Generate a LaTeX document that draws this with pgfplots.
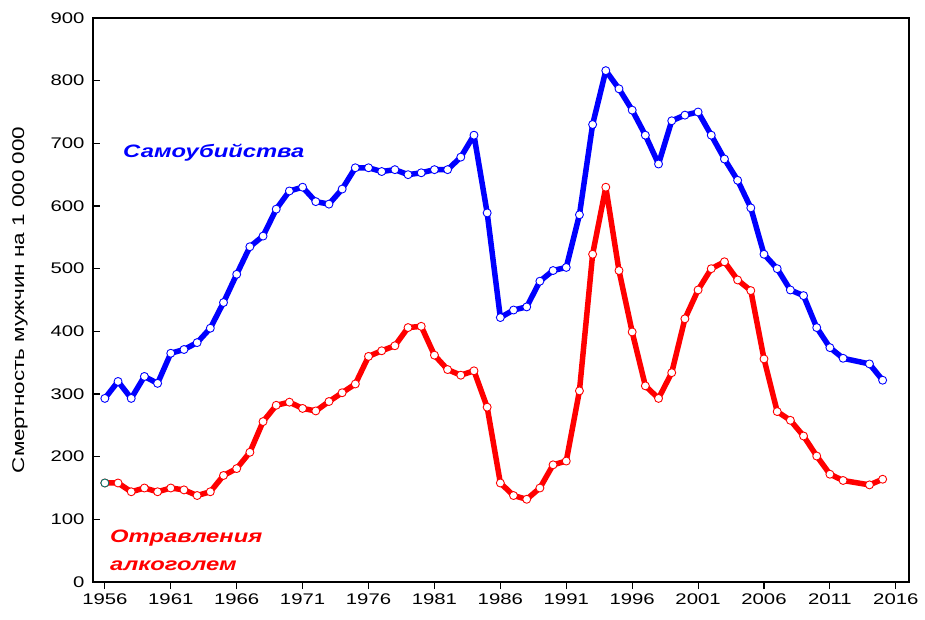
\documentclass[border=0pt]{standalone}
\usepackage{fontspec}
\setmainfont[FakeStretch=1.32]{Liberation Sans}
\usepackage{pgfplots}
\pgfplotsset{compat=1.18}

\definecolor{suic}{RGB}{0,0,255}
\definecolor{alco}{RGB}{255,0,0}
\definecolor{firstmk}{RGB}{0,110,100}

\pgfplotstableread{
year val
1956 293
1957 320
1958 293
1959 328
1960 317
1961 365
1962 371
1963 382
1964 405
1965 446
1966 491
1967 535
1968 552
1969 595
1970 624
1971 630
1972 607
1973 603
1974 627
1975 661
1976 661
1977 655
1978 658
1979 650
1980 653
1981 658
1982 658
1983 678
1984 713
1985 589
1986 422
1987 434
1988 439
1989 480
1990 497
1991 502
1992 586
1993 730
1994 816
1995 787
1996 753
1997 713
1998 667
1999 736
2000 745
2001 750
2002 713
2003 675
2004 641
2005 597
2006 523
2007 500
2008 466
2009 457
2010 406
2011 374
2012 357
2014 348
2015 322
}\suicide

\pgfplotstableread{
year val
1956 158
1957 158
1958 144
1959 150
1960 144
1961 150
1962 147
1963 138
1964 144
1965 170
1966 181
1967 207
1968 256
1969 282
1970 287
1971 277
1972 273
1973 288
1974 302
1975 316
1976 360
1977 369
1978 377
1979 406
1980 408
1981 362
1982 339
1983 330
1984 337
1985 279
1986 158
1987 138
1988 132
1989 150
1990 187
1991 193
1992 305
1993 523
1994 630
1995 497
1996 399
1997 313
1998 293
1999 334
2000 420
2001 466
2002 500
2003 511
2004 482
2005 465
2006 356
2007 272
2008 258
2009 233
2010 201
2011 172
2012 162
2014 155
2015 164
}\alcohol

\begin{document}
\begin{tikzpicture}
\useasboundingbox (-93pt,-37pt) rectangle (832pt,582pt);
\begin{axis}[
    name=ax,
    at={(0,0)}, anchor=south west,
    scale only axis,
    width=816pt, height=564pt,
    xmin=1955.1, xmax=2017,
    ymin=0, ymax=900,
    xtick={1956,1961,...,2016},
    ytick={0,100,...,900},
    xtick pos=bottom, ytick pos=left,
    xtick align=outside, ytick align=inside,
    major tick length=7pt,
    tick style={black, line width=1.1pt},
    axis line style={line width=1.3pt},
    /pgf/number format/assume math mode=true,
    x tick label style={/pgf/number format/1000 sep={}},
    tick label style={font=\fontsize{15.4}{17}\selectfont},
    yticklabel style={xshift=-5pt},
    xticklabel style={yshift=-1pt},
    clip=false,
]
\addplot[suic, line width=5.5pt, line join=round, mark=*, mark size=4pt,
    mark options={fill=white, draw=suic, line width=0.9pt}]
    table[x=year, y=val] {\suicide};
\addplot[alco, line width=5.5pt, line join=round, mark=*, mark size=4pt,
    mark options={fill=white, draw=alco, line width=0.9pt}]
    table[x=year, y=val] {\alcohol};
% first marker of the red series has a dark teal outline
\addplot[only marks, mark=*, mark size=4pt,
    mark options={fill=white, draw=firstmk, line width=0.9pt}]
    coordinates {(1956,158)};

\node[anchor=base west, text=suic, font=\fontsize{18}{20}\selectfont\bfseries\itshape, inner sep=0pt]
    at (axis cs:1957.37,676.6) {Самоубийства};
\node[anchor=base west, text=alco, font=\fontsize{18}{20}\selectfont\bfseries\itshape, inner sep=0pt]
    at (axis cs:1956.38,63.8) {Отравления};
\node[anchor=base west, text=alco, font=\fontsize{18}{20}\selectfont\bfseries\itshape, inner sep=0pt]
    at (axis cs:1956.38,19.1) {алкоголем};
\end{axis}
\node[rotate=90, anchor=center, font=\fontsize{17}{19}\selectfont, inner sep=0pt]
    at ([xshift=-73pt]ax.west) {Смертность мужчин на 1 000 000};
\end{tikzpicture}
\end{document}
